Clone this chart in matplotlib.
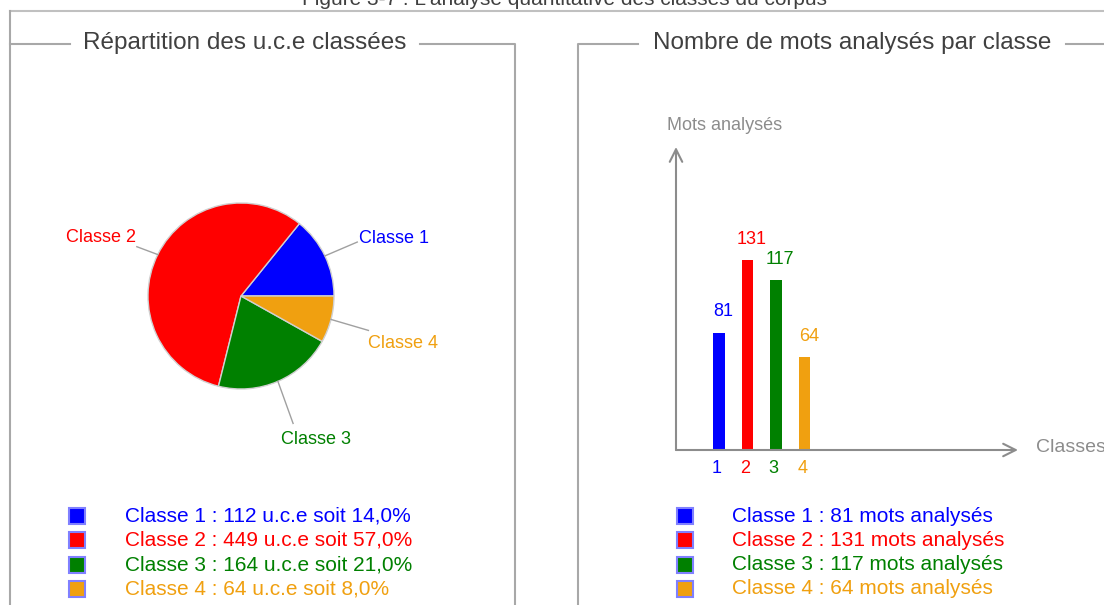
import numpy as np
import matplotlib
matplotlib.use('Agg')
import matplotlib.pyplot as plt
from matplotlib.patches import Rectangle

plt.rcParams['font.family'] = ['Liberation Sans', 'DejaVu Sans']

# Data
classes = ['Classe 1', 'Classe 2', 'Classe 3', 'Classe 4']
class_numbers = ['1', '2', '3', '4']
uce_counts = [112, 449, 164, 64]
uce_percent = ['14,0%', '57,0%', '21,0%', '8,0%']
mots_counts = [81, 131, 117, 64]
colors = ['#0000ff', '#ff0000', '#008000', '#f0a010']

# Pie label layout (in pie radius units): leader line end, text anchor, alignment
leader_ends = [(1.25, 0.58), (-1.12, 0.53), (0.56, -1.37), (1.37, -0.37)]
label_pos = [(1.27, 0.62), (-1.13, 0.63), (0.81, -1.45), (1.37, -0.51)]
label_align = [('left', 'center'), ('right', 'center'), ('center', 'top'), ('left', 'center')]

W, H = 1104, 605
frame_gray = '#a8a8a8'
title_gray = '#404040'
axis_gray = '#8c8c8c'

fig = plt.figure(figsize=(W / 100, H / 100), dpi=100)
fig.patch.set_facecolor('white')

# Background axes in pixel coordinates for frames and legends
bg = fig.add_axes([0, 0, 1, 1])
bg.set_xlim(0, W)
bg.set_ylim(H, 0)
bg.axis('off')

def px_axes(x0, y0, x1, y1):
    # axes from pixel box (top-left origin)
    return fig.add_axes([x0 / W, (H - y1) / H, (x1 - x0) / W, (y1 - y0) / H])

# Figure caption, running off the top edge
bg.text(565, 5, "Figure 3-7 : L'analyse quantitative des classes du corpus",
        ha='center', va='baseline', fontsize=15, color=title_gray)

# Outer frame
bg.plot([10, W], [11, 11], color='#c0c0c0', lw=1.5)
bg.plot([10, 10], [11, H], color=frame_gray, lw=1.5)

# Group boxes
bg.plot([10, 70], [44, 44], color=frame_gray, lw=1.5)
bg.plot([420, 515, 515], [44, 44, H], color=frame_gray, lw=1.5)
bg.text(245, 43, 'Répartition des u.c.e classées', ha='center', va='center',
        fontsize=17.5, color=title_gray)

bg.plot([578, 578, 638], [H, 44, 44], color=frame_gray, lw=1.5)
bg.plot([1066, W], [44, 44], color=frame_gray, lw=1.5)
bg.text(852, 43, 'Nombre de mots analysés par classe', ha='center', va='center',
        fontsize=17.5, color=title_gray)

# Pie chart
cx, cy, r = 241, 296, 93
pie_ax = px_axes(cx - r, cy - r, cx + r, cy + r)
wedges, _ = pie_ax.pie(uce_counts, colors=colors, startangle=0, counterclock=True,
                       wedgeprops=dict(edgecolor='#d0d0d0', linewidth=1))
pie_ax.set_xlim(-1, 1)
pie_ax.set_ylim(-1, 1)
pie_ax.set_aspect('equal')

for w, name, col, end, pos, (ha, va) in zip(wedges, classes, colors, leader_ends,
                                             label_pos, label_align):
    ang = np.deg2rad((w.theta1 + w.theta2) / 2)
    pie_ax.plot([np.cos(ang), end[0]], [np.sin(ang), end[1]], color='#a0a0a0', lw=1,
                clip_on=False)
    pie_ax.text(pos[0], pos[1], name, ha=ha, va=va, fontsize=13, color=col)

# Bar chart
bar_ax = px_axes(676, 147, 1018, 450)
x = np.arange(1, len(mots_counts) + 1)
bar_ax.bar(x, mots_counts, width=0.39, color=colors)
bar_ax.set_xlim(-0.51, 11.49)
bar_ax.set_ylim(0, 209)
for side in bar_ax.spines.values():
    side.set_visible(False)
bar_ax.set_yticks([])
bar_ax.set_xticks(x - 0.08)
bar_ax.set_xticklabels(class_numbers, fontsize=13)
for lbl, col in zip(bar_ax.get_xticklabels(), colors):
    lbl.set_color(col)
bar_ax.tick_params(axis='x', length=0, pad=7)
for xi, v, col in zip(x, mots_counts, colors):
    bar_ax.annotate(str(v), (xi, v), xytext=(3, 9), textcoords='offset points',
                    ha='center', va='bottom', fontsize=13, color=col)

arrow = dict(arrowstyle='->,head_length=0.9,head_width=0.45', color=axis_gray, lw=1.5,
             shrinkA=0, shrinkB=0)
bar_ax.annotate('', xy=(0, 1), xytext=(0, 0), xycoords='axes fraction', arrowprops=arrow,
                annotation_clip=False)
bar_ax.annotate('', xy=(1, 0), xytext=(0, 0), xycoords='axes fraction', arrowprops=arrow,
                annotation_clip=False)
bg.text(725, 125, 'Mots analysés', ha='center', va='center', fontsize=13, color=axis_gray)
bg.text(1036, 447, 'Classes', ha='left', va='center', fontsize=14, color=axis_gray)

# Legends
row_y = [516, 540, 565, 589]
for i, (name, col) in enumerate(zip(classes, colors)):
    y = row_y[i]
    bg.add_patch(Rectangle((69, y - 8), 16, 16, facecolor=col, edgecolor='#8080ff', lw=1.5))
    bg.text(125, y, f'{name} : {uce_counts[i]} u.c.e soit {uce_percent[i]}',
            ha='left', va='center', fontsize=15, color=col)
    bg.add_patch(Rectangle((677, y - 8), 16, 16, facecolor=col, edgecolor='#8080ff', lw=1.5))
    bg.text(732, y, f'{name} : {mots_counts[i]} mots analysés',
            ha='left', va='center', fontsize=15, color=col)

fig.savefig('out.png', dpi=100)
